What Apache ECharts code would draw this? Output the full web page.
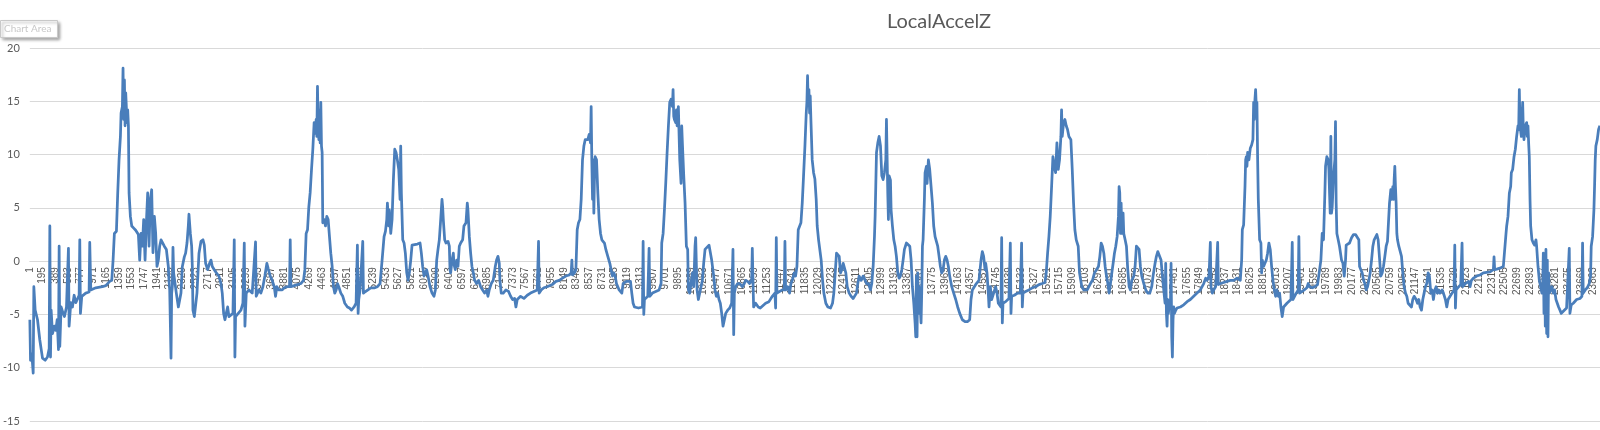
<!DOCTYPE html>
<html>
<head>
<meta charset="utf-8">
<script src="https://cdn.jsdelivr.net/npm/echarts@6/dist/echarts.min.js"></script>
<style>
html,body{margin:0;padding:0;background:#fff;}
#chart{width:1600px;height:430px;}
</style>
</head>
<body>
<div id="chart"></div>
<script>
// Title and axis settings
const chartTitle = 'LocalAccelZ';
const sampleCount = 23960;          // number of samples (categories 1..N)
const yTicks = [-15, -10, -5, 0, 5, 10, 15, 20];
const labelStep = 194;              // category label every 194 samples (1, 195, 389, ...)

// Readings [sample number, LocalAccelZ], segment by segment
const seg1 = [[1,-5.5],[11,-9.3],[31,-8.7],[52,-10.5],[62,-2.4],[82,-4.6],[118,-5.5],[153,-7.4],[194,-9.1],[235,-9.3],[270,-9.0],[296,-8.2],[306,3.3],[316,-9.0],[326,-4.6],[346,-6.8],[377,-6.1],[397,-6.5],[418,-5.5],[438,-8.3],[448,1.4],[458,-8.0],[478,-4.3],[509,-4.9],[529,-5.2],[560,-4.3],[590,1.2],[600,-6.1],[626,-3.9],[651,-4.3],[677,-3.2],[702,-3.9],[753,-3.2],[763,2.0],[773,-4.9],[793,-3.3],[854,-3.0],[905,-2.9],[915,1.75],[931,-2.7],[1007,-2.5],[1108,-2.4],[1159,-2.3],[1220,-1.9],[1251,-1.8],[1271,0.1],[1291,2.6],[1322,2.8],[1342,6.4],[1362,9.5],[1383,11.7],[1393,13.9],[1413,14.5],[1423,18.1],[1433,13.3],[1444,17.0],[1454,12.7],[1464,15.8],[1484,13.0],[1494,14.2],[1505,12.7],[1515,6.4],[1535,4.2],[1556,3.3],[1586,3.1],[1616,2.9],[1657,2.5],[1677,0.1],[1698,2.6],[1718,1.4],[1738,3.9],[1759,0.1],[1779,3.6],[1799,6.4],[1820,1.4],[1840,5.8],[1860,6.7],[1880,0.8],[1901,4.2],[1921,2.6],[1941,-0.5],[1962,0.1],[1982,1.4],[2003,2.0],[2023,1.85],[2053,1.4],[2084,1.1],[2114,-0.5],[2124,-1.8],[2135,-2.7],[2155,-9.1],[2165,-3.0],[2175,-2.4],[2185,1.3],[2195,-1.1],[2206,-1.1],[2236,-3.0],[2267,-4.3],[2287,-4.4],[2307,-3.0],[2328,-0.5],[2358,0.4],[2378,0.75],[2399,1.7],[2419,3.3],[2429,4.4],[2450,2.6],[2470,1.4],[2480,-0.5],[2490,-4.6],[2511,-5.2],[2531,-5.05],[2551,-3.0],[2582,0.75],[2612,1.85],[2643,2.0],[2663,1.5],[2683,-0.2],[2714,-0.8],[2744,-0.2],[2765,0.1],[2785,-0.5],[2815,-0.8],[2846,-1.1],[2886,-1.4],[2917,-2.1],[2937,-3.0],[2958,-4.9],[2978,-5.5],[2998,-4.9],[3019,-4.3],[3039,-5.2],[3069,-5.2],[3100,-4.9],[3120,2.0],[3130,-9.0],[3140,-5.2],[3181,-4.9],[3222,-4.6],[3252,-3.95],[3273,1.7],[3283,-6.1],[3303,-3.0],[3344,-2.7],[3394,-3.0],[3445,1.8],[3455,-3.3],[3496,-2.7],[3526,-3.0],[3557,-2.4],[3587,-1.4],[3618,-0.2],[3638,-0.7],[3669,-1.4],[3699,-1.8],[3730,-2.4],[3750,-3.3],[3770,-2.4],[3801,-2.7],[3852,-2.7],[3882,-2.5],[3928,-2.4]];

const seg2 = [[3963,-2.4],[3974,2.0],[3984,-2.4],[4035,-2.3],[4085,-2.2],[4136,-2.1],[4177,-1.8],[4197,-0.8],[4217,2.6],[4238,2.95],[4258,5.1],[4278,6.4],[4299,8.6],[4319,10.5],[4339,13.0],[4360,12.0],[4370,13.3],[4380,11.7],[4390,16.4],[4400,12.7],[4411,11.4],[4421,14.2],[4431,11.1],[4441,14.9],[4451,10.8],[4461,10.2],[4471,3.6],[4492,3.9],[4512,3.3],[4532,4.2],[4553,3.9],[4573,2.3],[4593,0.75],[4614,-0.5],[4634,-2.4],[4654,-3.0],[4675,-2.7],[4695,-2.1],[4715,-2.4],[4746,-3.0],[4776,-3.3],[4807,-3.95],[4847,-4.3],[4878,-4.4],[4908,-4.6],[4949,-4.3],[4979,-3.95],[4999,1.5],[5010,-4.9],[5020,-3.6],[5040,-2.7],[5081,1.85],[5091,-3.0],[5122,-2.85],[5152,-2.7],[5203,-2.5],[5233,-2.4],[5264,-2.5],[5305,-2.4],[5345,-2.1],[5376,0.1],[5406,2.3],[5427,2.8],[5447,3.9],[5457,5.45],[5477,3.3],[5487,4.8],[5508,2.6],[5528,3.9],[5548,7.6],[5569,10.5],[5589,10.2],[5609,9.5],[5630,8.6],[5650,5.8],[5660,10.8],[5670,6.4],[5691,2.0],[5711,1.7],[5731,0.75],[5752,-1.1],[5772,-1.8],[5792,-1.1],[5813,0.1],[5833,1.5],[5863,1.5],[5914,1.6],[5955,1.7],[5975,0.75],[5995,-0.5],[6016,-1.4],[6036,-1.1],[6056,-0.8],[6077,-1.4],[6107,-2.4],[6138,-3.0],[6168,-3.3],[6189,-2.7],[6209,0.1],[6229,1.1],[6249,2.0],[6270,3.9],[6290,5.8],[6300,5.1],[6310,3.9],[6331,2.0],[6351,1.7],[6382,1.85],[6402,1.4],[6412,-0.8],[6422,-1.1],[6443,0.1],[6463,0.75],[6473,-0.3],[6493,-0.8],[6514,0.1],[6534,-0.5],[6554,1.4],[6575,1.7],[6605,2.0],[6625,3.3],[6656,3.6],[6676,5.45],[6686,4.8],[6707,2.3],[6727,0.75],[6747,-0.5],[6768,-1.1],[6788,-1.8],[6818,-2.1],[6849,-1.8],[6879,-2.4],[6910,-2.7],[6940,-3.0],[6971,-2.7],[6991,-3.3],[7011,-2.7],[7042,-2.1],[7072,-1.8],[7103,-0.5],[7123,0.1],[7144,0.45],[7164,-0.2],[7174,-1.8],[7194,-3.0],[7225,-3.0],[7265,-2.7],[7306,-2.85],[7337,-3.3],[7367,-3.6],[7398,-3.5],[7418,-4.3],[7438,-3.6],[7489,-3.3],[7540,-3.5],[7591,-3.2],[7641,-3.0],[7692,-2.85],[7743,-2.7],[7763,1.85],[7773,-3.0],[7804,-2.7],[7845,-2.5],[7895,-2.4],[7972,-2.2]];

const seg3 = [[8028,-1.9],[8079,-1.8],[8129,-1.6],[8180,-1.4],[8231,-1.3],[8261,-1.1],[8272,0.1],[8282,-1.3],[8312,-1.1],[8333,-0.8],[8353,2.95],[8373,3.6],[8394,3.9],[8414,5.8],[8434,9.5],[8455,10.8],[8475,11.4],[8495,11.5],[8515,11.4],[8536,11.9],[8556,11.1],[8566,14.5],[8576,9.5],[8587,5.8],[8597,9.5],[8607,4.5],[8617,8.0],[8627,9.8],[8648,9.5],[8668,6.4],[8688,3.9],[8709,2.6],[8729,2.0],[8749,1.85],[8769,1.7],[8790,1.1],[8820,0.45],[8851,-0.2],[8871,-0.8],[8891,-1.4],[8912,-1.1],[8932,-1.4],[8952,-2.1],[8973,-2.4],[8993,-2.7],[9013,-2.85],[9034,-3.0],[9054,-2.1],[9074,-2.1],[9105,-1.9],[9135,-1.8],[9166,-1.9],[9186,-3.0],[9206,-3.95],[9227,-4.3],[9247,-4.4],[9288,-4.4],[9318,-4.3],[9349,-4.3],[9359,1.85],[9369,-5.0],[9379,-3.6],[9399,-3.6],[9430,-3.3],[9450,1.2],[9460,-3.3],[9501,-3.0],[9552,-2.85],[9603,-2.7],[9633,-2.1],[9643,1.7],[9664,2.6],[9684,4.8],[9704,7.3],[9725,10.2],[9745,12.7],[9765,14.9],[9785,15.2],[9806,14.5],[9816,16.1],[9826,13.6],[9836,13.3],[9857,13.0],[9867,14.2],[9877,12.7],[9897,14.5],[9907,12.0],[9918,9.5],[9938,7.3],[9948,12.7],[9958,11.1],[9979,8.0],[9999,5.45],[10019,1.4],[10039,1.1],[10050,-2.7],[10070,-3.0],[10090,-2.1],[10111,-1.1],[10131,-2.4],[10151,1.4],[10161,2.2],[10172,-0.5],[10182,-2.7],[10202,-3.6],[10222,-3.0],[10243,-2.4],[10263,-1.8],[10283,-0.2],[10304,1.1],[10334,1.2],[10365,1.5],[10385,1.4],[10405,0.1],[10436,-1.4],[10456,-2.7],[10476,-3.3],[10497,-3.0],[10517,-3.6],[10537,-3.95],[10558,-4.9],[10578,-6.1],[10598,-6.0],[10619,-4.9],[10649,-4.6],[10680,-4.4],[10710,-3.95],[10730,1.1],[10741,-6.9],[10751,-3.0],[10771,-2.4],[10801,-2.1],[10832,-2.1],[10873,-2.4],[10903,-2.1],[10923,-1.8],[10954,-1.9],[10984,-2.1],[11015,-1.8],[11025,1.2],[11035,-1.8],[11045,-4.3],[11076,-3.95],[11116,-4.3],[11147,-4.4],[11177,-4.3],[11228,-3.95],[11279,-3.8],[11330,-3.3],[11370,-3.0],[11381,-4.4],[11391,2.2],[11401,-3.0],[11431,-3.0],[11482,-2.7],[11513,-2.7],[11523,1.85],[11533,-2.7],[11563,-2.4],[11594,-3.0],[11614,-2.1],[11635,-1.8],[11665,-1.1],[11685,-1.4],[11706,-0.5],[11726,2.95],[11746,2.95],[11767,3.6],[11787,5.45],[11807,8.0],[11828,10.8],[11848,13.9],[11858,14.9],[11868,17.4],[11878,14.9],[11889,16.1],[11899,13.9],[11909,15.5],[11919,13.3],[11939,9.5],[11960,8.3],[11980,7.7],[12000,5.8]];

const seg4 = [[12015,3.3],[12036,2.0],[12056,1.85],[12076,0.1],[12097,-1.8],[12117,-3.0],[12147,-3.95],[12178,-4.3],[12219,-4.4],[12249,-3.95],[12269,-3.0],[12290,-1.1],[12310,0.75],[12330,0.9],[12351,0.45],[12371,-1.1],[12391,-0.8],[12412,-0.2],[12432,-0.35],[12452,-1.1],[12473,-2.4],[12503,-3.0],[12533,-3.3],[12564,-3.5],[12594,-3.5],[12615,-3.0],[12635,-2.1],[12655,-1.4],[12686,-1.8],[12716,-1.4],[12747,-1.8],[12767,-2.1],[12798,-2.1],[12828,-2.7],[12848,-2.1],[12869,-0.5],[12889,2.3],[12899,4.2],[12909,7.0],[12920,10.2],[12940,11.1],[12960,11.7],[12981,10.8],[13001,8.0],[13021,7.65],[13041,8.3],[13062,9.5],[13072,13.3],[13082,9.8],[13092,6.4],[13102,3.9],[13113,8.0],[13133,7.6],[13143,4.8],[13163,3.3],[13184,2.0],[13204,1.4],[13224,0.45],[13245,-1.1],[13265,-1.6],[13285,-1.4],[13306,-0.8],[13326,0.1],[13346,1.1],[13377,1.7],[13407,1.75],[13428,1.4],[13448,0.1],[13468,-2.4],[13489,-3.95],[13509,-5.8],[13519,-7.1],[13529,-1.4],[13539,-7.1],[13549,-1.1],[13560,-4.9],[13570,-2.4],[13580,-3.6],[13600,-5.8],[13610,-3.0],[13621,1.4],[13631,2.0],[13651,5.8],[13661,8.3],[13682,8.9],[13692,7.3],[13712,9.5],[13732,8.6],[13753,7.0],[13773,5.45],[13793,3.3],[13814,2.3],[13834,1.85],[13854,1.4],[13875,0.45],[13895,-0.5],[13915,-1.1],[13936,-0.8],[13956,0.1],[13976,0.45],[13997,0.1],[14017,-0.5],[14037,-1.4],[14068,-2.4],[14098,-3.0],[14129,-3.6],[14159,-4.3],[14190,-4.9],[14230,-5.5],[14271,-5.67],[14311,-5.67],[14342,-5.5],[14362,-3.6],[14383,-2.7],[14413,-2.4],[14444,-2.1],[14484,-1.8],[14515,0.1],[14535,0.9],[14555,0.45],[14576,-0.8],[14586,-0.2],[14606,-1.1],[14626,-3.0],[14637,-4.3],[14657,-2.4],[14677,-3.6],[14708,-3.0],[14738,-2.4],[14759,-3.0],[14779,-3.95],[14799,-4.1],[14819,-4.3],[14830,2.2],[14840,-5.8],[14850,-3.95],[14891,-3.8],[14941,-3.5],[14962,1.7],[14972,-4.9],[14982,-3.3],[15023,-3.2],[15073,-3.0],[15114,-3.0],[15134,1.7],[15145,-4.3],[15155,-3.0],[15195,-2.85],[15246,-2.7],[15297,-2.5],[15348,-2.4],[15399,-2.2],[15449,-2.1],[15490,-2.0],[15510,-1.1],[15531,0.75],[15551,2.3],[15571,4.2],[15592,7.0],[15612,9.8],[15632,8.9],[15653,8.3],[15673,11.1],[15693,8.6],[15713,9.5],[15734,11.7],[15744,14.2],[15754,11.7],[15775,13.0],[15795,13.3],[15815,12.7],[15835,12.35],[15856,11.7],[15886,11.4],[15907,8.6],[15927,5.45],[15947,2.95],[15968,2.0],[15998,1.4],[16018,-1.1]];

const seg5 = [[16053,-2.4],[16084,-2.7],[16135,-2.7],[16185,-2.1],[16216,-1.8],[16246,-1.1],[16277,-0.8],[16307,-0.5],[16328,0.45],[16348,1.7],[16368,1.4],[16389,0.75],[16409,-0.5],[16429,-1.4],[16450,-2.1],[16470,-3.0],[16490,-2.1],[16511,-1.1],[16531,-0.2],[16551,0.75],[16571,1.4],[16592,2.3],[16612,4.2],[16622,7.0],[16632,6.4],[16643,2.6],[16653,5.45],[16663,2.6],[16683,4.5],[16693,2.6],[16714,2.0],[16734,1.4],[16754,-0.8],[16775,-2.4],[16795,-2.7],[16815,-1.8],[16846,-1.4],[16866,-0.5],[16886,1.4],[16907,1.5],[16927,1.1],[16947,-0.5],[16968,-1.4],[16998,-2.1],[17029,-2.7],[17059,-3.0],[17090,-3.0],[17120,-2.4],[17140,-1.4],[17171,-0.2],[17191,0.45],[17212,0.9],[17242,1.07],[17262,0.1],[17283,-1.4],[17303,-2.7],[17323,-3.95],[17333,-0.2],[17344,-4.9],[17354,-6.1],[17364,-3.6],[17374,-4.9],[17384,-4.3],[17405,-3.95],[17415,-0.2],[17425,-7.1],[17435,-9.0],[17445,-5.5],[17455,-4.3],[17466,-4.9],[17486,-4.6],[17506,-4.4],[17557,-4.3],[17608,-4.1],[17659,-3.8],[17709,-3.6],[17760,-3.3],[17811,-3.0],[17862,-2.7],[17913,-2.1],[17943,-1.6],[17963,-1.8],[17994,-1.4],[18014,1.75],[18024,-2.4],[18045,-3.0],[18065,-2.7],[18095,-2.4],[18126,1.75],[18136,-2.2],[18167,-2.1],[18217,-2.0],[18268,-1.9],[18319,-1.8],[18370,-1.8],[18421,-1.6],[18471,-1.8],[18492,0.1],[18502,2.95],[18522,3.4],[18543,7.0],[18553,9.5],[18563,9.8],[18573,8.9],[18583,10.2],[18603,9.5],[18624,10.6],[18644,10.9],[18664,11.4],[18675,14.9],[18685,13.3],[18695,15.2],[18705,16.1],[18715,14.5],[18725,14.9],[18736,9.5],[18746,5.8],[18766,2.0],[18786,1.7],[18797,-1.1],[18807,0.1],[18827,-0.5],[18847,-0.2],[18868,0.1],[18888,0.75],[18908,1.7],[18929,1.07],[18949,-0.5],[18969,-1.8],[18990,-2.7],[19010,-3.3],[19030,-2.7],[19051,-3.3],[19071,-3.0],[19091,-4.3],[19111,-5.2],[19132,-4.3],[19152,-4.3],[19183,-3.95],[19213,-4.1],[19244,-3.6],[19264,1.75],[19274,-3.6],[19294,-3.5],[19325,-3.0],[19355,-2.7],[19365,2.3],[19376,-3.0],[19406,-2.85],[19447,-2.7],[19487,-2.5],[19508,-2.1],[19528,-2.4],[19569,-2.5],[19609,-2.4],[19650,-2.2],[19680,-2.1],[19701,0.1],[19721,2.6],[19741,2.0],[19762,6.4],[19772,8.9],[19792,9.8],[19813,9.5],[19823,8.6],[19833,6.4],[19843,4.5],[19853,11.7],[19863,4.5],[19874,5.1],[19894,8.0],[19914,9.5],[19924,13.1],[19934,5.45],[19945,2.6],[19965,2.0],[19985,1.4]];

const seg6 = [[20016,0.1],[20037,-0.2],[20057,-1.4],[20077,0.1],[20087,1.5],[20108,1.4],[20138,1.7],[20169,2.2],[20199,2.5],[20230,2.5],[20260,2.2],[20280,2.0],[20291,-0.5],[20311,-0.8],[20331,-1.1],[20352,-1.8],[20372,-2.1],[20392,-2.7],[20413,-2.4],[20433,-1.8],[20453,-1.1],[20474,0.1],[20494,1.4],[20514,2.0],[20534,1.85],[20555,2.5],[20575,2.0],[20595,2.0],[20616,-1.4],[20636,-1.1],[20656,-0.5],[20677,0.45],[20697,1.4],[20717,1.85],[20738,2.0],[20748,5.45],[20768,6.7],[20778,5.8],[20799,7.0],[20809,5.8],[20819,7.65],[20829,8.9],[20839,7.0],[20849,5.45],[20860,2.6],[20870,2.0],[20890,1.4],[20910,1.5],[20931,0.45],[20951,-1.1],[20971,-2.4],[20992,-3.0],[21012,-3.3],[21032,-3.95],[21053,-4.1],[21083,-4.3],[21103,-3.6],[21124,-3.3],[21154,-3.6],[21175,-3.95],[21195,-3.6],[21215,-4.3],[21236,-4.6],[21256,-3.6],[21276,-3.0],[21296,-2.4],[21317,-2.1],[21337,-1.1],[21357,-1.4],[21378,-3.0],[21398,-2.7],[21418,-3.6],[21439,-2.7],[21459,-2.4],[21479,-3.0],[21500,-2.7],[21520,-3.0],[21550,-2.7],[21571,-3.0],[21601,-3.6],[21622,-4.3],[21642,-3.6],[21672,-3.3],[21703,-3.0],[21733,-2.7],[21744,1.5],[21754,-4.4],[21764,-2.7],[21804,-2.4],[21835,-2.2],[21855,1.7],[21865,-2.4],[21906,-2.1],[21957,-1.9],[21977,-2.4],[21998,-1.8],[22028,-1.6],[22079,-1.4],[22130,-1.3],[22180,-1.1],[22231,-1.05],[22282,-1.0],[22333,-0.8],[22343,0.4],[22353,-0.8],[22384,-0.75],[22434,-0.66],[22485,-0.5],[22506,-0.35],[22526,2.6],[22536,3.3],[22556,4.2],[22577,6.4],[22597,7.0],[22607,8.3],[22627,8.6],[22648,9.8],[22668,10.5],[22688,11.7],[22709,12.7],[22719,12.35],[22729,16.1],[22739,12.7],[22760,11.7],[22770,13.6],[22780,14.9],[22790,12.35],[22800,11.4],[22820,12.7],[22841,13.0],[22851,11.7],[22861,12.7],[22871,11.1],[22881,9.8],[22892,5.8],[22902,3.3],[22922,2.0],[22942,1.7],[22963,1.5],[22983,2.0],[22993,1.4],[23014,-0.5],[23034,-1.8],[23054,-2.4],[23074,-3.0],[23085,-2.4],[23095,0.75],[23105,-4.9],[23115,0.1],[23125,-6.1],[23135,1.1],[23146,-6.8],[23156,0.1],[23166,-7.1],[23176,-1.1],[23186,-3.0],[23207,-2.7],[23227,-2.4],[23247,-3.0],[23268,-2.7],[23288,-3.6],[23308,-3.95],[23328,-4.3],[23349,-4.6],[23369,-4.9],[23400,-4.7],[23430,-4.6],[23450,-4.4],[23471,-4.3],[23491,1.2],[23501,-4.9],[23521,-4.1],[23552,-3.95],[23603,-3.6],[23654,-3.5],[23684,-3.3],[23694,1.7],[23704,-3.0],[23735,-2.7],[23765,-2.5],[23796,-2.1],[23816,-1.4],[23826,1.4],[23847,2.3],[23867,4.8],[23877,7.0],[23887,9.5],[23897,10.8],[23918,11.4],[23938,12.35],[23958,12.7]];

// Categories: sample numbers 1..N
const categories = [];
for (let i = 1; i <= sampleCount; i++) categories.push(String(i));

// series data: category index (0-based) + value
const readings = seg1.concat(seg2, seg3, seg4, seg5, seg6);
const seriesData = readings.map(p => [p[0] - 1, p[1]]);

// layout of the plot area
const gridTop = 48, gridBottom = 9, chartH = 430;
const yMin = yTicks[0], yMax = yTicks[yTicks.length - 1];
const plotH = chartH - gridTop - gridBottom;
// the category axis sits on the value-0 line (as in the original), so shift it up from the bottom
const axisShift = -plotH * (0 - yMin) / (yMax - yMin);

const chart = echarts.init(document.getElementById('chart'), null, {renderer: 'canvas'});
const txt = '#595959';
chart.setOption({
  animation: false,
  backgroundColor: '#ffffff',
  title: {
    text: chartTitle,
    left: 934,
    top: 7,
    textAlign: 'center',
    textStyle: {fontFamily: 'Lato, "Liberation Sans", sans-serif', fontSize: 20, fontWeight: 'normal', color: txt}
  },
  grid: {left: 27, right: 0, top: gridTop, bottom: gridBottom, containLabel: false},
  xAxis: {
    type: 'category',
    data: categories,
    boundaryGap: false,
    position: 'bottom',
    offset: axisShift,
    axisLine: {show: true, onZero: false, lineStyle: {color: '#d9d9d9', width: 1}},
    axisTick: {show: false},
    splitLine: {show: false},
    axisLabel: {
      interval: labelStep - 1,
      rotate: 90,
      margin: 6,
      color: txt,
      fontSize: 10,
      fontFamily: '"Liberation Sans Narrow", "Liberation Sans", sans-serif',
      hideOverlap: false
    }
  },
  yAxis: {
    type: 'value',
    min: yMin,
    max: yMax,
    interval: 5,
    axisLine: {show: false},
    axisTick: {show: false},
    splitLine: {show: true, lineStyle: {color: '#d9d9d9', width: 1}},
    axisLabel: {margin: 10, color: txt, fontSize: 11, fontFamily: 'Lato, "Liberation Sans", sans-serif'}
  },
  graphic: [
    {type: 'rect', left: 0, top: 20, shape: {width: 57, height: 17}, z: 100,
     style: {fill: '#ffffff', stroke: '#c8c8c8', lineWidth: 1, shadowBlur: 3, shadowOffsetX: 2, shadowOffsetY: 2, shadowColor: 'rgba(0,0,0,0.35)'}},
    {type: 'text', left: 4, top: 24, z: 101,
     style: {text: 'Chart Area', fill: '#c8c8c8', font: '10px Lato, "Liberation Sans", sans-serif'}}
  ],
  series: [{
    type: 'line',
    data: seriesData,
    showSymbol: false,
    symbol: 'none',
    sampling: false,
    z: 3,
    lineStyle: {color: '#4a7ebb', width: 2.75, join: 'round'},
    itemStyle: {color: '#4a7ebb'}
  }]
});
</script>
</body>
</html>
